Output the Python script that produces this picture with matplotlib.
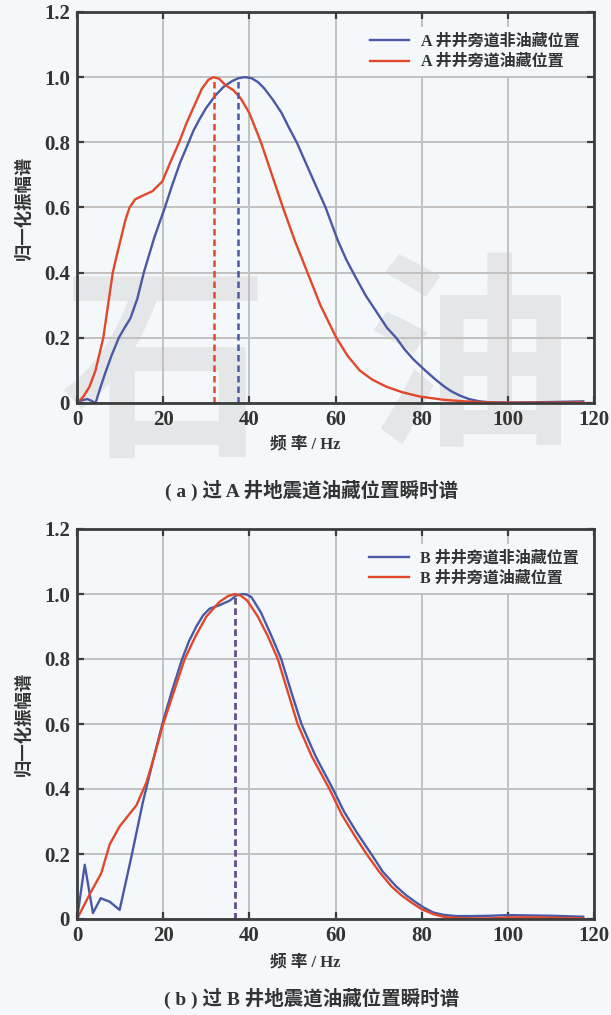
import matplotlib
matplotlib.use("Agg")
import matplotlib.pyplot as plt

# (a) well A trace spectra
fa_blue = [0, 1, 2.4, 3.5, 4.3, 5.5, 6.5, 8, 9.7, 11, 12.4, 14, 15.5, 16.4, 18, 20.4, 22, 24, 25.6, 27,
           28.4, 30, 32.2, 34, 36, 37.5, 39, 40.5, 42, 43.5, 45.5, 47.5, 49, 51, 53, 55, 57.7, 60.5, 62.5,
           64.5, 67, 70, 72, 74.1, 76, 78, 80.8, 83.4, 85.3, 87, 89, 91, 93.5, 96, 100, 105, 110, 117.5]
va_blue = [0, 0.008, 0.012, 0.006, 0.0, 0.05, 0.09, 0.145, 0.2, 0.23, 0.26, 0.32, 0.4, 0.44, 0.51, 0.6,
           0.665, 0.74, 0.79, 0.835, 0.87, 0.906, 0.945, 0.97, 0.988, 0.997, 1.0, 0.997, 0.985, 0.965,
           0.93, 0.89, 0.85, 0.8, 0.74, 0.68, 0.6, 0.5, 0.44, 0.39, 0.33, 0.27, 0.23, 0.2, 0.165, 0.135,
           0.1, 0.07, 0.05, 0.035, 0.022, 0.012, 0.005, 0.002, 0.001, 0.002, 0.003, 0.005]
fa_red = [0, 1.5, 2.9, 4.3, 5.2, 6.1, 7.2, 8.3, 9, 10.1, 11.2, 12.2, 13.5, 15.5, 17.5, 19.8, 21.7, 23.7,
          25.3, 26.8, 29, 30.5, 31.7, 33, 34.5, 36.3, 38, 40, 42.7, 45, 47.8, 50.5, 53.5, 56.5, 60.2,
          62.8, 65.6, 68.5, 71.8, 75.5, 79.5, 85, 90, 95, 100, 110, 117.5]
va_red = [0, 0.02, 0.05, 0.1, 0.15, 0.2, 0.3, 0.4, 0.44, 0.5, 0.56, 0.6, 0.625, 0.638, 0.65, 0.68, 0.74,
          0.8, 0.855, 0.9, 0.965, 0.992, 1.0, 0.995, 0.975, 0.96, 0.935, 0.89, 0.8, 0.71, 0.6, 0.5, 0.4,
          0.3, 0.2, 0.145, 0.1, 0.072, 0.05, 0.033, 0.02, 0.01, 0.005, 0.002, 0.001, 0.001, 0.002]
peak_a_blue = 37.3
peak_a_red = 31.7

# (b) well B trace spectra
fb_blue = [0, 1.8, 3.7, 5.5, 7.6, 9.9, 12.6, 15.3, 17.7, 19.8, 22, 24.4, 26, 27.7, 29.3, 30.8, 33, 35.5,
           37, 38.5, 39.5, 40.5, 42.7, 45, 47.4, 49.7, 52.1, 55.4, 59.4, 62, 65, 68.3, 71, 74.1, 76.5,
           78.8, 80.5, 82.7, 85, 88, 92, 96, 100, 105, 110, 117.5]
vb_blue = [0, 0.167, 0.018, 0.064, 0.053, 0.028, 0.19, 0.36, 0.49, 0.6, 0.7, 0.8, 0.855, 0.9, 0.935,
           0.955, 0.965, 0.98, 0.996, 1.0, 0.998, 0.99, 0.943, 0.875, 0.8, 0.7, 0.6, 0.5, 0.4, 0.33,
           0.265, 0.2, 0.145, 0.1, 0.072, 0.05, 0.035, 0.02, 0.013, 0.009, 0.009, 0.01, 0.012, 0.011,
           0.01, 0.007]
fb_red = [0, 3.1, 5.6, 7.6, 9.9, 12, 13.8, 16.1, 17.7, 20, 22.5, 25, 27.5, 30, 33, 35, 36.6, 38, 39.5,
          42, 44.3, 46.6, 48.9, 51.2, 54.5, 58.6, 61.5, 64.5, 67.2, 70, 73, 75.3, 77.7, 80, 82.7, 85,
          88, 92, 96, 100, 105, 110, 117.5]
vb_red = [0, 0.08, 0.14, 0.23, 0.285, 0.32, 0.35, 0.42, 0.49, 0.6, 0.7, 0.8, 0.87, 0.93, 0.975, 0.993,
          1.0, 0.995, 0.98, 0.93, 0.87, 0.8, 0.7, 0.6, 0.5, 0.4, 0.32, 0.255, 0.2, 0.148, 0.1, 0.073,
          0.05, 0.03, 0.015, 0.007, 0.003, 0.002, 0.002, 0.005, 0.005, 0.004, 0.002]
peak_b = 36.6

xticks = [0, 20, 40, 60, 80, 100, 120]
yticks = [0, 0.2, 0.4, 0.6, 0.8, 1.0, 1.2]
ytick_labels = ["0", "0.2", "0.4", "0.6", "0.8", "1.0", "1.2"]

BLUE = "#4a59a6"
RED = "#e2472b"
BG = "#f4f8fb"
INK = "#333333"
cjk = ["Liberation Serif", "Noto Sans CJK SC"]

fig = plt.figure(figsize=(6.11, 10.15), dpi=100, facecolor=BG)

# faint watermark behind the top panel
fig.text(165 / 611, 1 - 378 / 1015, "石", fontsize=150, family="Noto Sans CJK SC", weight="black",
         color="#e4e6e8", ha="center", va="center", zorder=-1)
fig.text(470 / 611, 1 - 368 / 1015, "油", fontsize=150, family="Noto Sans CJK SC", weight="black",
         color="#e4e6e8", ha="center", va="center", zorder=-1)


def setup(ax):
    ax.set_facecolor("none")
    ax.set_xlim(0, 120)
    ax.set_ylim(0, 1.2)
    ax.set_xticks(xticks)
    ax.set_yticks(yticks)
    ax.set_yticklabels(ytick_labels)
    ax.grid(True, color="#c3c0c0", lw=1.4)
    ax.set_axisbelow(True)
    for s in ax.spines.values():
        s.set_color("#3c3c3c")
        s.set_linewidth(2)
    ax.tick_params(direction="in", top=True, right=True, length=5, width=1.6,
                   color="#3c3c3c", pad=5)
    for lab in ax.get_xticklabels() + ax.get_yticklabels():
        lab.set_family("Liberation Serif")
        lab.set_weight("bold")
        lab.set_fontsize(15)
        lab.set_color(INK)
    ax.set_ylabel("归一化振幅谱", family=cjk, weight="bold", fontsize=12.5,
                  color=INK, labelpad=8)


def legend(ax, labels):
    leg = ax.legend(labels, loc="upper right", bbox_to_anchor=(0.99, 0.97),
                    prop={"family": cjk, "weight": "bold", "size": 11.5},
                    frameon=True, facecolor=BG, edgecolor="none", framealpha=1,
                    handlelength=2.5, handletextpad=0.7, labelspacing=0.3,
                    borderaxespad=0.2)
    for t in leg.get_texts():
        t.set_color(INK)


ax1 = fig.add_axes([77 / 611, 1 - 403 / 1015, 517 / 611, 391 / 1015])
setup(ax1)
ax1.plot(fa_blue, va_blue, color=BLUE, lw=1.7)
ax1.plot(fa_red, va_red, color=RED, lw=1.7)
ax1.plot([peak_a_red, peak_a_red], [0, 1.0], color=RED, lw=1.8, ls=(0, (2.6, 1.6)))
ax1.plot([peak_a_blue, peak_a_blue], [0, 1.0], color=BLUE, lw=1.8, ls=(0, (2.6, 1.6)))
legend(ax1, ["A 井井旁道非油藏位置", "A 井井旁道油藏位置"])

ax2 = fig.add_axes([77 / 611, 1 - 919 / 1015, 517 / 611, 390 / 1015])
setup(ax2)
ax2.plot(fb_blue, vb_blue, color=BLUE, lw=1.7)
ax2.plot(fb_red, vb_red, color=RED, lw=1.7)
ax2.plot([peak_b, peak_b], [0, 1.0], color=RED, lw=1.8, ls=(0, (2.6, 1.6)))
ax2.plot([peak_b, peak_b], [0, 1.0], color=BLUE, lw=1.8, ls=(0, (2.6, 1.6)))
legend(ax2, ["B 井井旁道非油藏位置", "B 井井旁道油藏位置"])

# axis titles and panel captions
fig.text(0.5, 1 - 444 / 1015, "频 率 / Hz", family=cjk, weight="bold", fontsize=12,
         color=INK, ha="center", va="center")
fig.text(0.51, 1 - 490 / 1015, "( a ) 过 A 井地震道油藏位置瞬时谱", family=cjk, weight="bold",
         fontsize=14, color=INK, ha="center", va="center")
fig.text(0.5, 1 - 962 / 1015, "频 率 / Hz", family=cjk, weight="bold", fontsize=12,
         color=INK, ha="center", va="center")
fig.text(0.51, 1 - 998 / 1015, "( b ) 过 B 井地震道油藏位置瞬时谱", family=cjk, weight="bold",
         fontsize=14, color=INK, ha="center", va="center")

fig.savefig("out.png", dpi=100, facecolor=BG)
